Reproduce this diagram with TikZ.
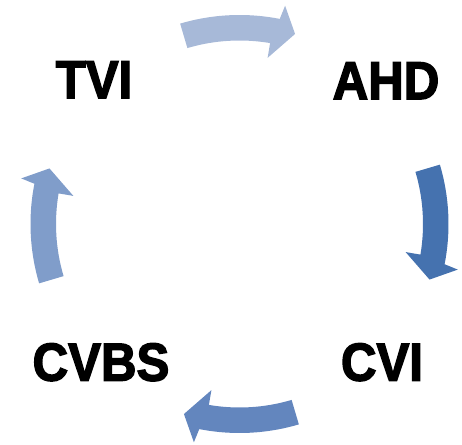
\documentclass[tikz,border=0pt]{standalone}
\usepackage{fontspec}
\setmainfont{Liberation Sans}
\newfontfamily\labelfont[FakeBold=2.6,FakeStretch=0.92]{Liberation Sans Bold}
\definecolor{arrowA}{HTML}{A7B9D8}
\definecolor{arrowB}{HTML}{4572AF}
\definecolor{arrowC}{HTML}{6386BE}
\definecolor{arrowD}{HTML}{809DCA}
\tikzset{
  lbl/.style={inner sep=0pt, text height=38.3pt, text depth=0pt,
    font=\labelfont\fontsize{53.5}{53.5}\selectfont, text=black},
  arrowfill/.style={fill=#1, draw=none}
}
\newcommand{\cyclearrow}[2]{% #1 colour, #2 middle angle
  \pgfmathsetmacro{\ta}{#2+16.5}%
  \pgfmathsetmacro{\bi}{#2-9.6}%
  \pgfmathsetmacro{\bo}{#2-11.1}%
  \pgfmathsetmacro{\hi}{#2-9.6}%
  \pgfmathsetmacro{\ho}{#2-11.8}%
  \pgfmathsetmacro{\tp}{#2-16.3}%
  \fill[arrowfill=#1] ([shift={(cc)}]\ta:183.5) arc[start angle=\ta, end angle=\bi, radius=183.5]
    -- ([shift={(cc)}]\hi:168.5) -- ([shift={(cc)}]\tp:198) -- ([shift={(cc)}]\ho:223)
    -- ([shift={(cc)}]\bo:209) arc[start angle=\bo, end angle=\ta, radius=209] -- cycle;
}
\begin{document}
\begin{tikzpicture}[x=1pt,y=1pt]
\useasboundingbox (0,0) rectangle (462,444);
\coordinate (cc) at (239.5,220);
\cyclearrow{arrowA}{90}
\cyclearrow{arrowB}{0}
\cyclearrow{arrowC}{-90}
\cyclearrow{arrowD}{180}
\node[lbl] (tvi) at (94,365) {TVI};
\node[lbl] (ahd) at (386,364) {AHD};
\node[lbl] (cvbs) at (101,82.5) {CVBS};
\node[lbl] (cvi) at (382,82.5) {CVI};
\end{tikzpicture}
\end{document}
